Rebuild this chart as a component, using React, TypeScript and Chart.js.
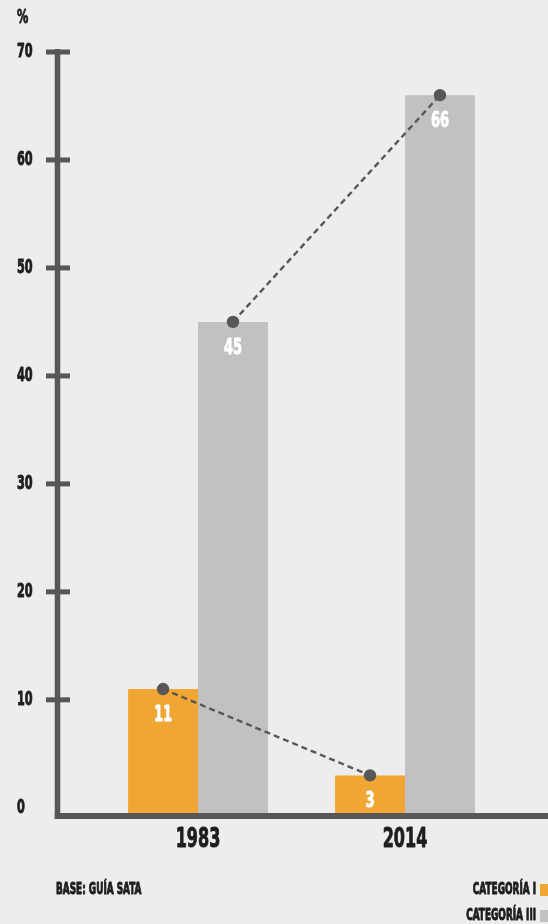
import { useEffect, useRef } from "react";
import { Chart, registerables } from "chart.js";

Chart.register(...registerables);

// Chart data
const YEARS = ["1983", "2014"];
const CATEGORIA_I = [11, 3];
const CATEGORIA_III = [45, 66];
const SERIES_NAMES = ["CATEGORÍA I", "CATEGORÍA III"];
const Y_TICKS = [0, 10, 20, 30, 40, 50, 60, 70];
const UNIT = "%";
const SOURCE = "BASE: GUÍA SATA";

// Styling
const ORANGE = "#F1A633";
const GREY = "#C1C1C1";
const AXIS = "#575757";
const INK = "#1E1E1E";
const BG = "#EDEDED";
const FONT = '"DejaVu Sans Condensed", "DejaVu Sans", sans-serif';
const TEXT_SQUEEZE = 0.66; // horizontal compression for the narrow display lettering
const SERIES_COLORS = [ORANGE, GREY];

// value axis runs a little below zero so the bars sit on the thick baseline
const Y_MIN = -0.76;
const Y_MAX = 70;
// category axis range (data units) leaves room left of the first group
const X_MIN = -0.679;
const X_MAX = 1.691;

function drawText(
  ctx: CanvasRenderingContext2D,
  text: string,
  x: number,
  y: number,
  size: number,
  align: CanvasTextAlign,
  color: string
) {
  ctx.save();
  ctx.font = `bold ${size}px ${FONT}`;
  ctx.fillStyle = color;
  ctx.strokeStyle = color;
  ctx.lineWidth = 0.9;
  ctx.lineJoin = "round";
  ctx.textAlign = align;
  ctx.textBaseline = "middle";
  ctx.translate(x, y);
  ctx.scale(TEXT_SQUEEZE, 1);
  ctx.fillText(text, 0, 0);
  ctx.strokeText(text, 0, 0);
  ctx.restore();
}

const decorations = {
  id: "decorations",
  beforeDraw(chart: any) {
    const { ctx, width, height } = chart;
    ctx.save();
    ctx.fillStyle = BG;
    ctx.fillRect(0, 0, width, height);
    ctx.restore();
  },
  afterDatasetsDraw(chart: any) {
    const { ctx, chartArea } = chart;
    const y = chart.scales.y;
    const x = chart.scales.x;
    ctx.save();

    // axis lines and tick marks
    ctx.fillStyle = AXIS;
    Y_TICKS.filter((v) => v > 0).forEach((v) => {
      const py = y.getPixelForValue(v);
      ctx.fillRect(chartArea.left - 11.5, py - 2.5, 24, 5);
    });
    const topPx = y.getPixelForValue(Y_TICKS[Y_TICKS.length - 1]) - 3;
    ctx.fillRect(chartArea.left - 2.75, topPx, 5.5, chartArea.bottom + 3 - topPx);
    ctx.fillRect(chartArea.left - 2.75, chartArea.bottom - 3, chartArea.right - chartArea.left + 2.75, 6);

    // y tick labels, left aligned at the page edge
    y.ticks.forEach((t: any) => {
      drawText(ctx, String(t.value), 17, y.getPixelForValue(t.value), 19, "left", INK);
    });
    // year labels under each group
    x.ticks.forEach((t: any) => {
      drawText(ctx, YEARS[t.value], x.getPixelForValue(t.value), chartArea.bottom + 24, 27, "center", INK);
    });

    // dashed connectors between the same series across years
    chart.data.datasets.forEach((_: any, di: number) => {
      const bars = chart.getDatasetMeta(di).data;
      ctx.setLineDash([6, 4]);
      ctx.lineWidth = 2.4;
      ctx.strokeStyle = AXIS;
      ctx.beginPath();
      bars.forEach((b: any, i: number) => (i ? ctx.lineTo(b.x, b.y) : ctx.moveTo(b.x, b.y)));
      ctx.stroke();
    });
    ctx.setLineDash([]);

    // markers and value labels
    chart.data.datasets.forEach((ds: any, di: number) => {
      const bars = chart.getDatasetMeta(di).data;
      bars.forEach((b: any, i: number) => {
        ctx.fillStyle = AXIS;
        ctx.beginPath();
        ctx.arc(b.x, b.y, 6.2, 0, Math.PI * 2);
        ctx.fill();
        drawText(ctx, String(ds.data[i].y), b.x, b.y + 26, 22, "center", "#FFFFFF");
      });
    });
    ctx.restore();
  },
  afterDraw(chart: any) {
    const { ctx } = chart;
    drawText(ctx, UNIT, 17, 18, 19, "left", INK);
    drawText(ctx, SOURCE, 56, 890, 15, "left", INK);

    // legend, text to the left of its swatch
    SERIES_NAMES.forEach((name, i) => {
      const cy = 890 + i * 26;
      drawText(ctx, name, 536, cy, 15, "right", INK);
      ctx.save();
      ctx.fillStyle = SERIES_COLORS[i];
      ctx.fillRect(540, cy - 6, 12, 12);
      ctx.restore();
    });
  },
};

export default function App() {
  const ref = useRef<HTMLCanvasElement>(null);

  useEffect(() => {
    document.body.style.margin = "0";
    document.body.style.background = BG;
    const chart = new Chart(ref.current!, {
      type: "bar",
      data: {
        datasets: [
          {
            label: SERIES_NAMES[0],
            data: CATEGORIA_I.map((v, i) => ({ x: i, y: v })),
            backgroundColor: ORANGE,
            base: Y_MIN,
          },
          {
            label: SERIES_NAMES[1],
            data: CATEGORIA_III.map((v, i) => ({ x: i, y: v })),
            backgroundColor: GREY,
            base: Y_MIN,
          },
        ],
      },
      options: {
        responsive: false,
        animation: false,
        events: [],
        barPercentage: 1,
        categoryPercentage: 0.676,
        layout: { padding: { left: 17, top: 52, right: 0, bottom: 68 } },
        plugins: { legend: { display: false }, tooltip: { enabled: false } },
        scales: {
          x: {
            type: "linear",
            offset: false,
            min: X_MIN,
            max: X_MAX,
            grid: { display: false },
            border: { display: false },
            ticks: { display: false },
            afterBuildTicks: (s: any) => {
              s.ticks = YEARS.map((_, i) => ({ value: i }));
            },
            afterFit: (s: any) => {
              s.height = 40;
            },
          },
          y: {
            min: Y_MIN,
            max: Y_MAX,
            grid: { display: false },
            border: { display: false },
            ticks: { display: false },
            afterBuildTicks: (s: any) => {
              s.ticks = Y_TICKS.map((v) => ({ value: v }));
            },
            afterFit: (s: any) => {
              s.width = 40.5;
            },
          },
        },
      } as any,
      plugins: [decorations],
    });
    return () => chart.destroy();
  }, []);

  return (
    <div style={{ width: 548, height: 924 }}>
      <canvas ref={ref} width={548} height={924} style={{ display: "block" }} />
    </div>
  );
}
